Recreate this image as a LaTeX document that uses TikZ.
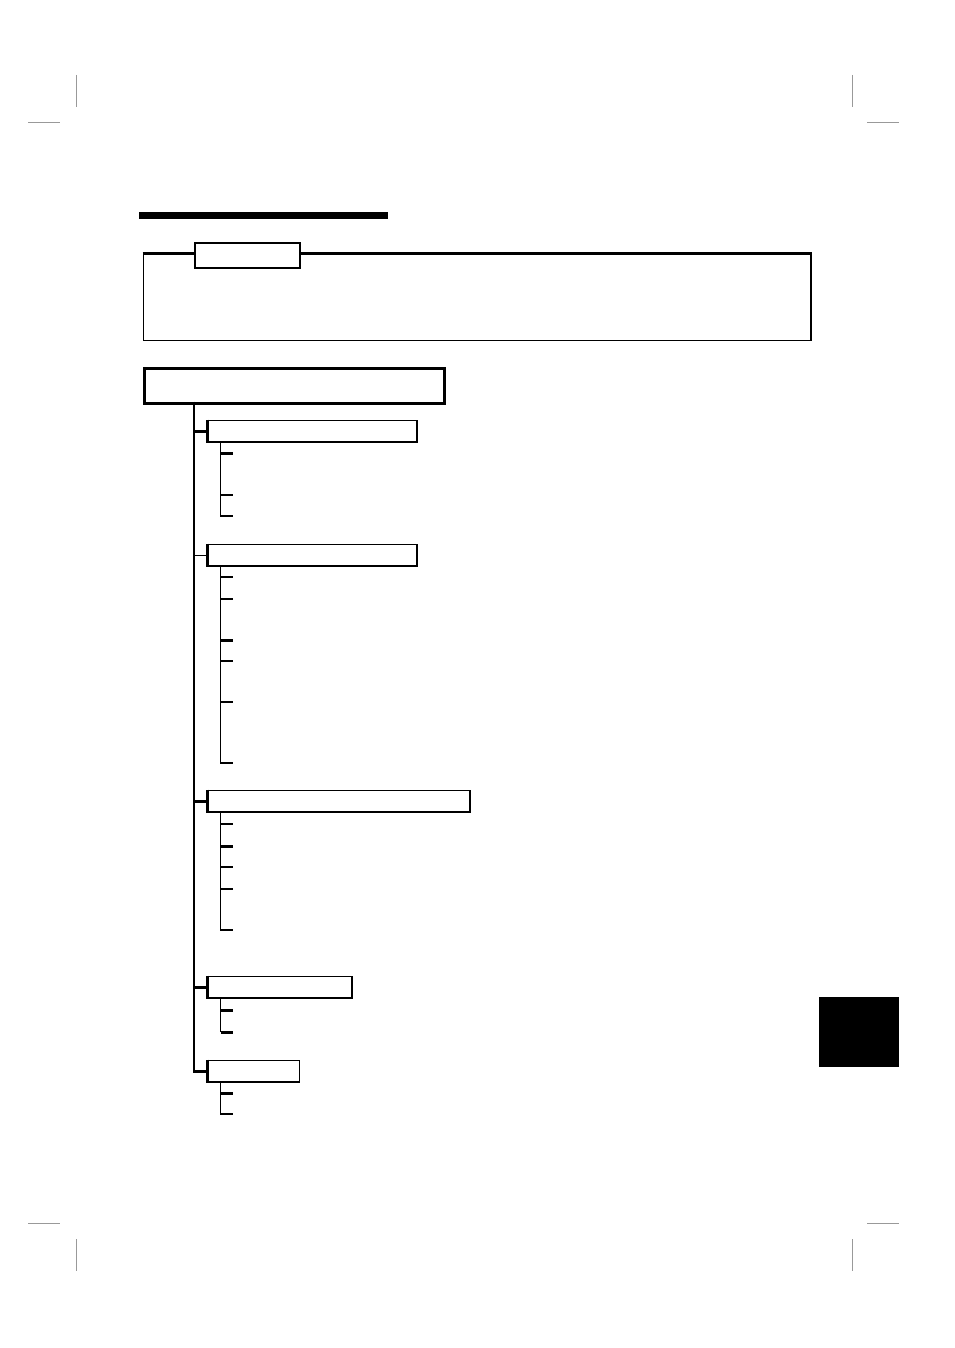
\documentclass[tikz,border=0pt]{standalone}
\usetikzlibrary{positioning}
\begin{document}
\begin{tikzpicture}[x=1pt,y=-1pt]
    % page frame and crop marks
    \tikzstyle{cropmark}=[draw=black!40,line width=1pt]
    \tikzstyle{notebox}=[rectangle,draw,line width=1.2pt,minimum width=667pt,
    minimum height=86pt,anchor=north west,inner sep=0pt]
    \tikzstyle{tabbox}=[rectangle,draw,fill=white,line width=2pt,minimum width=105pt,
    minimum height=25pt,anchor=north west,inner sep=0pt]
    \tikzstyle{mainbox}=[rectangle,draw,line width=3pt,minimum width=300pt,
    minimum height=35pt,anchor=north west,inner sep=0pt]
    \tikzstyle{secbox}=[rectangle,draw,line width=1.4pt,minimum height=21.6pt,
    anchor=north west,inner sep=0pt]
    \tikzstyle{trunk}=[line width=2.8pt]
    \tikzstyle{subline}=[line width=1.5pt]
    \tikzstyle{branch}=[line width=1.4pt]
    \tikzstyle{thickbranch}=[line width=3pt]

    \useasboundingbox (0,0) rectangle (954,1348);

    \draw[cropmark] (76,75) -- (76,107);
    \draw[cropmark] (28,123) -- (60,123);
    \draw[cropmark] (852,75) -- (852,107);
    \draw[cropmark] (867,123) -- (899,123);
    \draw[cropmark] (28,1223) -- (60,1223);
    \draw[cropmark] (76,1239) -- (76,1271);
    \draw[cropmark] (867,1223) -- (899,1223);
    \draw[cropmark] (852,1239) -- (852,1271);

    % heading bar
    \fill (139,212) rectangle (388,219);

    % note box with tab
    \node [notebox] (note) at (142.5,253.5) {};
    \draw [line width=2pt] (note.north west) -- (note.north east) -- (note.south east);
    \node [tabbox] (notetab) at (194,242) {};

    % main box and sections
    \node [mainbox] (main) at (142.5,366.5) {};
    \node [secbox,minimum width=208.6pt] (sec1) at (207.7,419.7) {};
    \node [secbox,minimum width=208.6pt,line width=1.7pt] (sec2) at (207.7,543.7) {};
    \node [secbox,minimum width=261.6pt] (sec3) at (207.7,789.7) {};
    \node [secbox,minimum width=143.6pt] (sec4) at (207.7,975.7) {};
    \node [secbox,minimum width=91pt,line width=1.7pt] (sec5) at (207.7,1059.7) {};
    \foreach \s in {sec1,sec2,sec3,sec4,sec5}
      \draw [line width=3pt] (\s.north west) -- (\s.south west);

    % trunk
    \coordinate (trunktop) at (194,401.5);
    \draw [trunk] (trunktop) |- (sec5.west);
    \draw [thickbranch] (trunktop |- sec1.west) -- (sec1.west);
    \draw [branch] (trunktop |- sec2.west) -- (sec2.west);
    \draw [thickbranch] (trunktop |- sec3.west) -- (sec3.west);
    \draw [thickbranch] (trunktop |- sec4.west) -- (sec4.west);

    % section 1
    \coordinate (sub1) at ([xshift=13pt]sec1.south west);
    \coordinate (s1a) at (233,453);
    \coordinate (s1b) at (233,495);
    \coordinate (s1c) at (233,516);
    \draw [subline] (sub1) |- (s1c);
    \draw [thickbranch] (sub1 |- s1a) -- (s1a);
    \draw [branch] (sub1 |- s1b) -- (s1b);

    % section 2
    \coordinate (sub2) at ([xshift=13pt]sec2.south west);
    \coordinate (s2a) at (233,577);
    \coordinate (s2b) at (233,599);
    \coordinate (s2c) at (233,640);
    \coordinate (s2d) at (233,661);
    \coordinate (s2e) at (233,702);
    \coordinate (s2f) at (233,763);
    \draw [subline] (sub2) |- (s2f);
    \foreach \b in {s2a,s2b,s2d,s2e}
      \draw [branch] (sub2 |- \b) -- (\b);
    \draw [thickbranch] (sub2 |- s2c) -- (s2c);

    % section 3
    \coordinate (sub3) at ([xshift=13pt]sec3.south west);
    \coordinate (s3a) at (233,824);
    \coordinate (s3b) at (233,846);
    \coordinate (s3c) at (233,867);
    \coordinate (s3d) at (233,889);
    \coordinate (s3e) at (233,930);
    \draw [subline] (sub3) |- (s3e);
    \foreach \b in {s3a,s3c,s3d}
      \draw [branch] (sub3 |- \b) -- (\b);
    \draw [thickbranch] (sub3 |- s3b) -- (s3b);

    % section 4
    \coordinate (sub4) at ([xshift=13pt]sec4.south west);
    \coordinate (s4a) at (233,1010);
    \coordinate (s4b) at (233,1032);
    \draw [subline] (sub4) -- (sub4 |- s4b);
    \draw [thickbranch] (sub4 |- s4a) -- (s4a);
    \draw [thickbranch] (sub4 |- s4b) -- (s4b);

    % section 5
    \coordinate (sub5) at ([xshift=13pt]sec5.south west);
    \coordinate (s5a) at (233,1093);
    \coordinate (s5b) at (233,1114);
    \draw [subline] (sub5) |- (s5b);
    \draw [thickbranch] (sub5 |- s5a) -- (s5a);

    % thumb tab
    \node [rectangle,fill,minimum width=80pt,minimum height=70pt,inner sep=0pt,
    anchor=north west] (thumb) at (819,997) {};
\end{tikzpicture}
\end{document}
